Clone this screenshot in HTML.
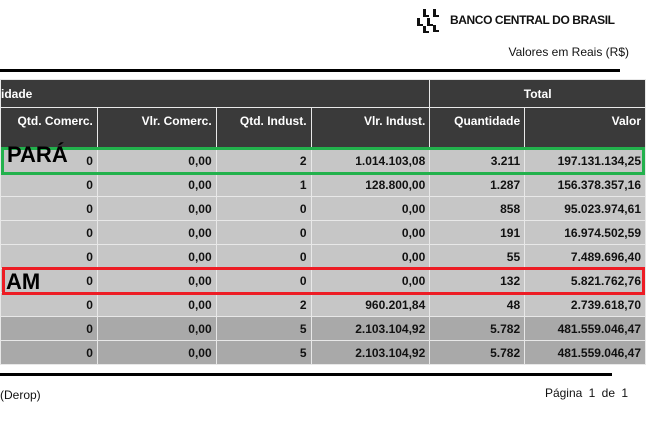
<!DOCTYPE html>
<html><head><meta charset="utf-8">
<style>
body{margin:0;width:646px;height:437px;background:#fff;position:relative;overflow:hidden;font-family:"Liberation Sans",Arial,sans-serif;}
.a{position:absolute;}
table{position:absolute;left:0;top:79px;border-collapse:collapse;font-size:12px;font-weight:bold;table-layout:fixed;}
td,th{border:1px solid #e8e8e8;padding:0 4px;text-align:right;overflow:hidden;white-space:nowrap;}
th{background:#3a3a3a;color:#fff;}
tr.h1 th{height:27px;}
tr.h2 th{height:41px;vertical-align:top;padding-top:6px;box-sizing:border-box;}
td{height:23px;background:#c6c6c6;color:#111;}
tr.sub td{background:#a9a9a9;}
</style></head><body>
<div class="a" style="left:415px;top:6px;width:215px;height:28px;white-space:nowrap">
<svg width="30" height="28" style="position:absolute;left:0;top:0">
<path d="M8 3 L11 3 L11 9 L14 9 L14 11 L8 11 Z M18 3 L21 3 L21 9 L24 9 L24 11 L18 11 Z M2 12 L5 12 L5 18 L8 18 L8 20 L2 20 Z M12 12 L15 12 L15 18 L18 18 L18 20 L12 20 Z M8 20 L11 20 L11 25 L14 25 L14 27 L8 27 Z M18 19 L21 19 L21 24 L24 24 L24 26 L18 26 Z" fill="#111"/>
</svg>
<span style="position:absolute;left:35px;top:7px;font-size:12px;font-weight:bold;color:#111;letter-spacing:-0.4px">BANCO CENTRAL DO BRASIL</span>
</div>
<div class="a" style="right:17px;top:45px;font-size:12px;color:#111">Valores em Reais (R$)</div>
<div class="a" style="left:0;top:69px;width:620px;height:3px;background:#000"></div>

<table>
<colgroup><col style="width:97px"><col style="width:119px"><col style="width:95px"><col style="width:119px"><col style="width:95px"><col style="width:121px"></colgroup>
<tr class="h1"><th colspan="4" style="text-align:left;padding-left:0">idade</th><th colspan="2" style="text-align:center">Total</th></tr>
<tr class="h2"><th>Qtd. Comerc.</th><th>Vlr. Comerc.</th><th>Qtd. Indust.</th><th>Vlr. Indust.</th><th>Quantidade</th><th>Valor</th></tr>
<tr><td>0</td><td>0,00</td><td>2</td><td>1.014.103,08</td><td>3.211</td><td>197.131.134,25</td></tr>
<tr><td>0</td><td>0,00</td><td>1</td><td>128.800,00</td><td>1.287</td><td>156.378.357,16</td></tr>
<tr><td>0</td><td>0,00</td><td>0</td><td>0,00</td><td>858</td><td>95.023.974,61</td></tr>
<tr><td>0</td><td>0,00</td><td>0</td><td>0,00</td><td>191</td><td>16.974.502,59</td></tr>
<tr><td>0</td><td>0,00</td><td>0</td><td>0,00</td><td>55</td><td>7.489.696,40</td></tr>
<tr><td>0</td><td>0,00</td><td>0</td><td>0,00</td><td>132</td><td>5.821.762,76</td></tr>
<tr><td>0</td><td>0,00</td><td>2</td><td>960.201,84</td><td>48</td><td>2.739.618,70</td></tr>
<tr class="sub"><td>0</td><td>0,00</td><td>5</td><td>2.103.104,92</td><td>5.782</td><td>481.559.046,47</td></tr>
<tr class="sub"><td>0</td><td>0,00</td><td>5</td><td>2.103.104,92</td><td>5.782</td><td>481.559.046,47</td></tr>
</table>

<div class="a" style="left:1px;top:147px;width:638px;height:22px;border:3px solid #22b14c"></div>
<div class="a" style="left:7px;top:142px;font-size:22px;font-weight:bold;color:#000">PARÁ</div>
<div class="a" style="left:2px;top:267px;width:637px;height:22px;border:3px solid #ed1c24"></div>
<div class="a" style="left:6px;top:269px;font-size:22px;font-weight:bold;color:#000">AM</div>

<div class="a" style="left:0;top:373px;width:612px;height:3px;background:#000"></div>
<div class="a" style="left:0;top:388px;font-size:12px;color:#111">(Derop)</div>
<div class="a" style="right:18px;top:386px;font-size:12px;color:#111;word-spacing:3px">Página 1 de 1</div>
</body></html>
